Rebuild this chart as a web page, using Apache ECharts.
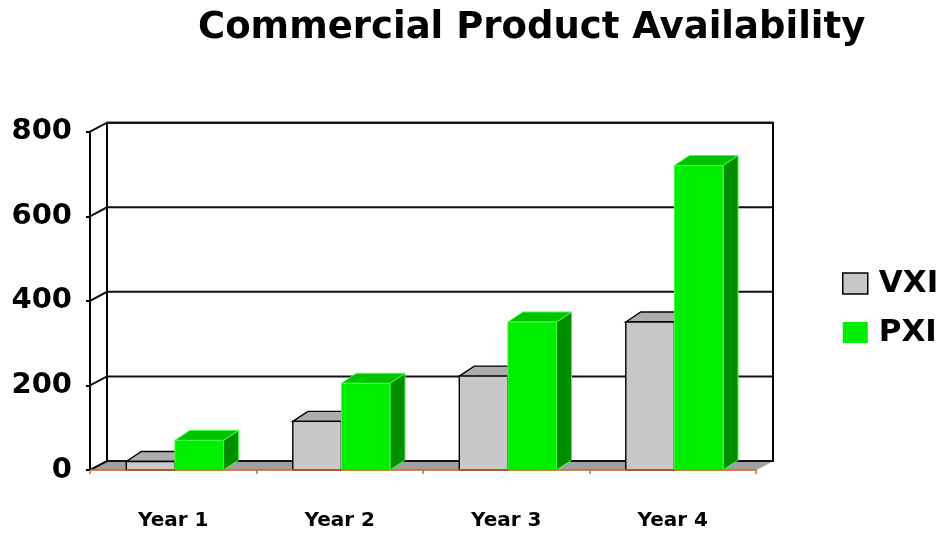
<!DOCTYPE html>
<html>
<head>
<meta charset="utf-8">
<script src="https://cdn.jsdelivr.net/npm/echarts@6/dist/echarts.min.js"></script>
<style>
  html, body { margin: 0; padding: 0; background: #ffffff; }
  #chart { width: 942px; height: 533px; }
</style>
</head>
<body>
<div id="chart"></div>
<script>
// Chart data
const categories = ['Year 1', 'Year 2', 'Year 3', 'Year 4'];
const vxiValues = [20, 115, 222, 350];
const pxiValues = [70, 205, 350, 720];
const valueTicks = [0, 200, 400, 600, 800];

const FONT = 'DejaVu Sans';
// Depth of the box (floor / walls) and of the columns, in pixels
const WALL_DX = 17, WALL_DY = -9;
const BAR_DX = 15, BAR_DY = -10;

// Floor, back wall and gridlines of the 3D frame
function renderFrame(params, api) {
  const cs = params.coordSys;
  const x0 = cs.x, x1 = cs.x + cs.width;
  const v = api.value(1);
  const y = api.coord([0, v])[1];
  const children = [];
  if (params.dataIndex === 0) {
    const yTop = api.coord([0, valueTicks[valueTicks.length - 1]])[1];
    children.push({
      type: 'rect',
      shape: { x: x0 + WALL_DX, y: yTop + WALL_DY, width: cs.width, height: y - yTop },
      style: { fill: '#ffffff', stroke: '#000000', lineWidth: 2 }
    });
    children.push({
      type: 'polygon',
      shape: { points: [[x0, y], [x1, y], [x1 + WALL_DX, y + WALL_DY], [x0 + WALL_DX, y + WALL_DY]] },
      style: { fill: '#a0a0a0', stroke: '#b4b4b4', lineWidth: 1 }
    });
  }
  children.push({
    type: 'polyline',
    shape: { points: [[x0, y], [x0 + WALL_DX, y + WALL_DY], [x1 + WALL_DX, y + WALL_DY]] },
    style: { fill: null, stroke: '#111111', lineWidth: 2 }
  });
  return { type: 'group', children: children };
}

// 3D column: front face, top face and right side face
function makeBarRenderer(offsetFrac, widthFrac, look) {
  return function (params, api) {
    const cat = api.value(0);
    const v = api.value(1);
    const base = api.coord([cat, 0]);
    const top = api.coord([cat, v]);
    const band = api.size([1, 0])[0];
    const x = base[0] - band / 2 + band * offsetFrac;
    const w = band * widthFrac;
    const yb = base[1], yt = top[1];
    return {
      type: 'group',
      children: [
        {
          type: 'polygon',
          shape: { points: [[x + w, yt], [x + w + BAR_DX, yt + BAR_DY], [x + w + BAR_DX, yb + BAR_DY], [x + w, yb]] },
          style: { fill: look.side, stroke: look.stroke, lineWidth: look.lw }
        },
        {
          type: 'polygon',
          shape: { points: [[x, yt], [x + BAR_DX, yt + BAR_DY], [x + w + BAR_DX, yt + BAR_DY], [x + w, yt]] },
          style: { fill: look.top, stroke: look.stroke, lineWidth: look.lw }
        },
        {
          type: 'rect',
          shape: { x: x, y: yt, width: w, height: yb - yt },
          style: { fill: look.front, stroke: look.stroke, lineWidth: look.lw }
        }
      ]
    };
  };
}

const greyLook = { front: '#c8c8c8', top: '#acacac', side: '#8c8c8c', stroke: '#000000', lw: 1.4 };
const greenLook = { front: '#00ee00', top: '#00c400', side: '#008e00', stroke: '#44ff44', lw: 1 };

const chart = echarts.init(document.getElementById('chart'), null, { renderer: 'canvas' });

chart.setOption({
  backgroundColor: '#ffffff',
  animation: false,
  title: {
    text: 'Commercial Product Availability',
    left: 193,
    top: 5,
    textStyle: { fontFamily: FONT, fontWeight: 'bold', fontSize: 37, color: '#000000' }
  },
  legend: {
    orient: 'vertical',
    left: 837,
    top: 263,
    itemWidth: 25,
    itemHeight: 21,
    itemGap: 18,
    icon: 'rect',
    selectedMode: false,
    textStyle: { fontFamily: FONT, fontWeight: 'bold', fontSize: 31, color: '#000000', padding: [0, 0, 0, 6] },
    data: [
      { name: 'VXI', itemStyle: { color: '#c8c8c8', borderColor: '#000000', borderWidth: 1.5 } },
      { name: 'PXI', itemStyle: { color: '#00ee00', borderWidth: 0 } }
    ]
  },
  grid: { left: 90, right: 186, top: 131.7, bottom: 63 },
  xAxis: {
    type: 'category',
    data: categories,
    boundaryGap: true,
    z: 10,
    axisLine: { show: true, lineStyle: { color: '#d2691e', width: 1.5 } },
    axisTick: { show: true, length: 4, lineStyle: { color: '#d2691e', width: 1.5 } },
    axisLabel: { margin: 41, fontFamily: FONT, fontWeight: 'bold', fontSize: 20, color: '#000000' },
    splitLine: { show: false }
  },
  yAxis: {
    type: 'value',
    min: 0,
    max: 800,
    interval: 200,
    z: 10,
    axisLine: { show: true, lineStyle: { color: '#000000', width: 2 } },
    axisTick: { show: true, length: 4, lineStyle: { color: '#000000', width: 2 } },
    axisLabel: { margin: 18, fontFamily: FONT, fontWeight: 'bold', fontSize: 29, color: '#000000' },
    splitLine: { show: false }
  },
  series: [
    {
      name: 'frame',
      type: 'custom',
      silent: true,
      z: 1,
      clip: false,
      renderItem: renderFrame,
      data: valueTicks.map(function (v) { return [0, v]; })
    },
    {
      name: 'VXI',
      type: 'custom',
      z: 3,
      clip: false,
      itemStyle: { color: '#c8c8c8' },
      renderItem: makeBarRenderer(0.218, 0.292, greyLook),
      data: vxiValues.map(function (v, i) { return [i, v]; })
    },
    {
      name: 'PXI',
      type: 'custom',
      z: 4,
      clip: false,
      itemStyle: { color: '#00ee00' },
      renderItem: makeBarRenderer(0.51, 0.292, greenLook),
      data: pxiValues.map(function (v, i) { return [i, v]; })
    }
  ]
});
</script>
</body>
</html>
